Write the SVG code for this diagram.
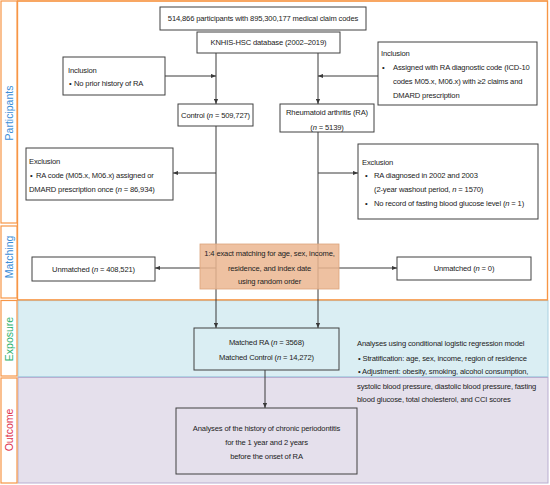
<svg xmlns="http://www.w3.org/2000/svg" width="550" height="485" viewBox="0 0 550 485">
<style>
text{font-family:"Liberation Sans",Arial,sans-serif;font-size:7.6px;fill:#222;letter-spacing:-0.15px}
.box{fill:#fff;stroke:#404040;stroke-width:1}
.c{text-anchor:middle}
.lab{font-size:10.5px;letter-spacing:0;text-anchor:middle}
.cell{fill:#fff;stroke:#f79646;stroke-width:1.2}
.ln{stroke:#3a3a3a;stroke-width:1;fill:none;marker-end:url(#ah)}
.it{font-style:italic}
</style>
<defs>
<marker id="ah" viewBox="0 0 6 6" refX="6" refY="3" markerWidth="5" markerHeight="5" orient="auto" markerUnits="userSpaceOnUse">
<path d="M0,0.5 L6,3 L0,5.5 Z" fill="#3a3a3a"/>
</marker>
</defs>

<g id="bands">
<rect x="17.5" y="1" width="530" height="299" fill="#fff" stroke="#f79646" stroke-width="1.2"/>
<rect x="18" y="300.6" width="530" height="76" fill="#daeef3" stroke="#a9d0e0" stroke-width="1"/>
<rect x="18" y="377.5" width="530" height="105.5" fill="#e5e0ec" stroke="#b9aed0" stroke-width="1"/>
<rect x="17.5" y="1" width="530" height="299" fill="none" stroke="#f79646" stroke-width="1.2"/>
</g>

<g id="labels">
<rect class="cell" x="1" y="1" width="16" height="222"/>
<rect class="cell" x="1" y="226" width="16" height="72"/>
<rect class="cell" x="1" y="300.5" width="16" height="75.5"/>
<rect class="cell" x="1" y="378" width="16" height="105"/>
<text class="lab" transform="translate(12.5,113) rotate(-90)" style="fill:#3b8ed8">Participants</text>
<text class="lab" transform="translate(12.5,257) rotate(-90)" style="fill:#3b8ed8">Matching</text>
<text class="lab" transform="translate(12.5,339) rotate(-90)" style="fill:#2fb36e">Exposure</text>
<text class="lab" transform="translate(12.5,430) rotate(-90)" style="fill:#e0304a">Outcome</text>
</g>

<g id="connectors">
<line class="ln" x1="216" y1="53" x2="216" y2="104"/>
<line class="ln" x1="216" y1="126" x2="216" y2="328"/>
<line class="ln" x1="318" y1="53" x2="318" y2="104"/>
<line class="ln" x1="318" y1="132" x2="318" y2="328"/>
<line class="ln" x1="165" y1="76" x2="216" y2="76"/>
<line class="ln" x1="378" y1="76" x2="318" y2="76"/>
<line class="ln" x1="216" y1="173" x2="173" y2="173"/>
<line class="ln" x1="318" y1="173" x2="358" y2="173"/>
<line class="ln" x1="216" y1="268" x2="155" y2="268"/>
<line class="ln" x1="318" y1="268" x2="397" y2="268"/>
<line class="ln" x1="265" y1="370" x2="265" y2="408"/>
</g>

<g id="source">
<rect class="box" x="160" y="7" width="206" height="23"/>
<text class="c" x="263" y="21">514,866 participants with 895,300,177 medical claim codes</text>
</g>
<g id="database">
<rect class="box" x="197" y="32" width="143" height="21"/>
<text class="c" x="268.5" y="45">KNHIS-HSC database (2002–2019)</text>
</g>
<g id="inclusion-control">
<rect class="box" x="63" y="57" width="102" height="38"/>
<text x="68" y="72.5">Inclusion</text>
<text x="69" y="85.5">•</text>
<text x="74" y="85.5">No prior history of RA</text>
</g>
<g id="inclusion-ra">
<rect class="box" x="378" y="42" width="159" height="63"/>
<text x="381" y="56">Inclusion</text>
<text x="382" y="70">•</text>
<text x="393" y="70">Assigned with RA diagnostic code (ICD-10</text>
<text x="393" y="84">codes M05.x, M06.x)  with ≥2 claims  and</text>
<text x="393" y="98">DMARD prescription</text>
</g>
<g id="control">
<rect class="box" x="178" y="104" width="75" height="22"/>
<text class="c" x="215.5" y="118">Control (<tspan class="it">n</tspan> = 509,727)</text>
</g>
<g id="ra">
<rect class="box" x="280" y="104" width="94" height="28"/>
<text class="c" x="327" y="115">Rheumatoid arthritis (RA)</text>
<text class="c" x="327" y="129.5">(<tspan class="it">n</tspan> = 5139)</text>
</g>
<g id="exclusion-control">
<rect class="box" x="26" y="148" width="147" height="52"/>
<text x="29" y="163.5">Exclusion</text>
<text x="30" y="177.5">•</text>
<text x="36" y="177.5">RA  code (M05.x, M06.x) assigned  or</text>
<text x="29" y="191.5">DMARD prescription once (<tspan class="it">n</tspan> = 86,934)</text>
</g>
<g id="exclusion-ra">
<rect class="box" x="358" y="144" width="180" height="75"/>
<text x="362" y="164.5">Exclusion</text>
<text x="365" y="178">•</text>
<text x="374" y="178">RA diagnosed in 2002 and 2003</text>
<text x="374" y="192">(2-year washout period, <tspan class="it">n</tspan> = 1570)</text>
<text x="365" y="206">•</text>
<text x="374" y="206">No record of fasting blood glucose level (<tspan class="it">n</tspan> = 1)</text>
</g>
<g id="matching">
<rect x="200" y="244" width="139" height="45" fill="#ebb690" fill-opacity="0.85" stroke="#dba37c" stroke-width="0.8"/>
<text class="c" x="269.5" y="256">1:4 exact matching for age, sex, income,</text>
<text class="c" x="269.5" y="270.5">residence, and index date</text>
<text class="c" x="269.5" y="284">using random order</text>
</g>
<g id="unmatched-control">
<rect class="box" x="32" y="257" width="123" height="24"/>
<text class="c" x="93.5" y="271.5">Unmatched (<tspan class="it">n</tspan> = 408,521)</text>
</g>
<g id="unmatched-ra">
<rect class="box" x="397" y="257" width="134" height="23"/>
<text class="c" x="464" y="271">Unmatched (<tspan class="it">n</tspan> = 0)</text>
</g>
<g id="matched">
<rect x="194" y="328" width="145" height="42" fill="#daeef3" stroke="#404040" stroke-width="1"/>
<text class="c" x="266.5" y="345">Matched RA (<tspan class="it">n</tspan> = 3568)</text>
<text class="c" x="266.5" y="359.5">Matched Control (<tspan class="it">n</tspan> = 14,272)</text>
</g>
<g id="analysis-note">
<text x="357" y="346">Analyses using conditional logistic regression model</text>
<text x="358" y="360.5">• Stratification: age, sex, income, region of residence</text>
<text x="358" y="374">• Adjustment: obesity, smoking, alcohol consumption,</text>
<text x="357" y="388.5">systolic blood pressure, diastolic blood pressure, fasting</text>
<text x="357" y="402">blood glucose, total cholesterol, and CCI scores</text>
</g>
<g id="outcome">
<rect x="176" y="408" width="181" height="66" fill="#e5e0ec" stroke="#404040" stroke-width="1"/>
<text class="c" x="266.5" y="431">Analyses of the history of chronic periodontitis</text>
<text class="c" x="266.5" y="445">for  the 1 year and 2 years</text>
<text class="c" x="266.5" y="459">before the onset of RA</text>
</g>
</svg>
